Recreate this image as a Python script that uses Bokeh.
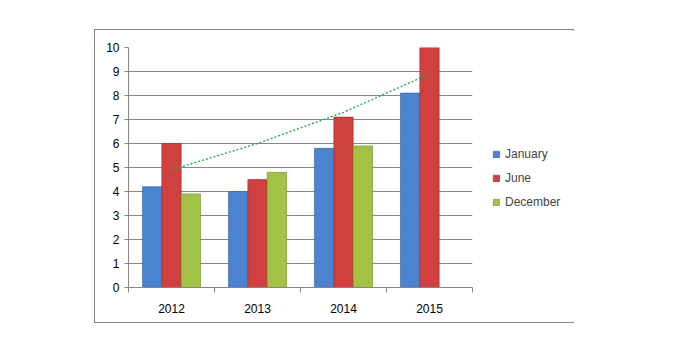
from bokeh.plotting import figure
from bokeh.models import ColumnDataSource, FixedTicker, Legend, LegendItem
from bokeh.embed import file_html
from bokeh.resources import INLINE

years = ["2012", "2013", "2014", "2015"]
january = [4.2, 4.0, 5.8, 8.1]
june = [6.0, 4.5, 7.1, 10.0]
december = [3.9, 4.8, 5.9, 0.0]
trend = [4.9, 6.0, 7.3, 8.9]  # exponential trendline (June)
y_ticks = list(range(0, 11))

series = [("January", january, "#4A84D0", "#2F5F9E"),
          ("June", june, "#D0403F", "#9E2A2A"),
          ("December", december, "#A2C245", "#6E8A2A")]
bar_w = 0.225
offsets = [-bar_w, 0.0, bar_w]

p = figure(frame_width=344, frame_height=240, x_range=(0, len(years)), y_range=(0, 10),
           output_backend="svg", toolbar_location=None,
           min_border_left=33, min_border_top=17, min_border_right=103, min_border_bottom=35,
           styles={"border": "1px solid #868686", "margin-left": "94px", "margin-top": "29px",
                   "width": "480px"})
p.background_fill_color = "white"
p.border_fill_color = "white"
p.outline_line_color = None

centers = [i + 0.5 for i in range(len(years))]
items = []
for (name, vals, col, edge), off in zip(series, offsets):
    src = ColumnDataSource(dict(x=[c + off for c in centers], top=vals))
    r = p.vbar(x="x", top="top", width=bar_w, source=src, fill_color=col, line_color=edge, line_width=0.6)
    items.append(LegendItem(label=name, renderers=[r]))

p.line(x=centers, y=trend, line_color="#1FAF50", line_width=1.4, line_dash="2 2")

# axes
p.xaxis.ticker = FixedTicker(ticks=centers, minor_ticks=list(range(len(years) + 1)))
p.xaxis.major_label_overrides = {c: y for c, y in zip(centers, years)}
p.xaxis.major_tick_out = 0
p.xaxis.major_tick_in = 0
p.xaxis.minor_tick_out = 5
p.xaxis.minor_tick_in = 0
p.xaxis.minor_tick_line_color = "#868686"
p.xaxis.axis_line_color = "#868686"
p.xaxis.major_label_standoff = 11
p.xaxis.major_label_text_font = "Liberation Sans"
p.xaxis.major_label_text_font_size = "12px"
p.xaxis.major_label_text_color = "black"

p.yaxis.ticker = FixedTicker(ticks=y_ticks)
p.yaxis.major_tick_out = 4
p.yaxis.major_tick_in = 0
p.yaxis.minor_tick_line_color = None
p.yaxis.major_tick_line_color = "#868686"
p.yaxis.axis_line_color = "#868686"
p.yaxis.major_label_standoff = 5
p.yaxis.major_label_text_font = "Liberation Sans"
p.yaxis.major_label_text_font_size = "12px"
p.yaxis.major_label_text_color = "black"

p.xgrid.grid_line_color = None
p.ygrid.grid_line_color = "#868686"
p.ygrid.grid_line_width = 1

legend = Legend(items=items, location=(20, 76), padding=0, margin=0,
                glyph_width=8, glyph_height=8, label_standoff=5, spacing=5, label_height=19,
                label_text_font="Liberation Sans", label_text_font_size="12px",
                border_line_color=None, background_fill_alpha=0)
p.add_layout(legend, "right")

open("out.html", "w").write(file_html(p, INLINE))
